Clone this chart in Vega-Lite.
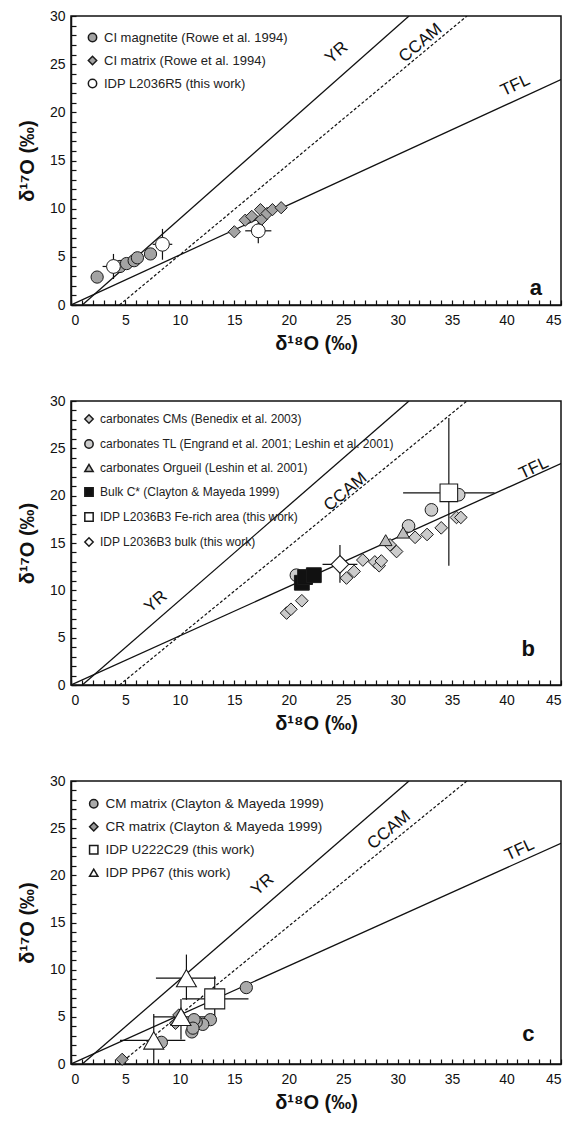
{
  "$schema": "https://vega.github.io/schema/vega-lite/v6.json",
  "background": "white",
  "padding": {"left": 16, "top": 8, "right": 2, "bottom": 5},
  "spacing": 39,
  "datasets": {
    "ref": [
      {"line": "YR", "x": 1.04, "y": 0}, {"line": "YR", "x": 31.04, "y": 30},
      {"line": "TFL", "x": 0, "y": 0}, {"line": "TFL", "x": 45, "y": 23.4},
      {"line": "CCAM", "x": 4.45, "y": 0}, {"line": "CCAM", "x": 36.36, "y": 30}
    ],
    "a_pts": [
      {"s": "CI magnetite (Rowe et al. 1994)", "x": 2.4, "y": 2.9},
      {"s": "CI magnetite (Rowe et al. 1994)", "x": 4.5, "y": 4.0},
      {"s": "CI magnetite (Rowe et al. 1994)", "x": 5.1, "y": 4.3},
      {"s": "CI magnetite (Rowe et al. 1994)", "x": 5.8, "y": 4.6},
      {"s": "CI magnetite (Rowe et al. 1994)", "x": 6.1, "y": 4.9},
      {"s": "CI magnetite (Rowe et al. 1994)", "x": 7.3, "y": 5.3},
      {"s": "CI matrix (Rowe et al. 1994)", "x": 15.0, "y": 7.6},
      {"s": "CI matrix (Rowe et al. 1994)", "x": 16.0, "y": 8.8},
      {"s": "CI matrix (Rowe et al. 1994)", "x": 16.6, "y": 9.2},
      {"s": "CI matrix (Rowe et al. 1994)", "x": 17.5, "y": 8.9},
      {"s": "CI matrix (Rowe et al. 1994)", "x": 17.4, "y": 9.9},
      {"s": "CI matrix (Rowe et al. 1994)", "x": 18.0, "y": 9.5},
      {"s": "CI matrix (Rowe et al. 1994)", "x": 18.5, "y": 9.9},
      {"s": "CI matrix (Rowe et al. 1994)", "x": 19.3, "y": 10.1},
      {"s": "IDP L2036R5 (this work)", "x": 3.9, "y": 4.0, "xlo": 2.9, "xhi": 4.9, "ylo": 2.7, "yhi": 5.3},
      {"s": "IDP L2036R5 (this work)", "x": 8.4, "y": 6.3, "xlo": 7.5, "xhi": 9.3, "ylo": 4.7, "yhi": 7.9},
      {"s": "IDP L2036R5 (this work)", "x": 17.2, "y": 7.7, "xlo": 16.0, "xhi": 18.4, "ylo": 6.4, "yhi": 9.0}
    ],
    "a_lab": [
      {"t": "YR", "x": 24.4, "y": 26.2},
      {"t": "CCAM", "x": 32.1, "y": 27.2},
      {"t": "TFL", "x": 40.8, "y": 22.8},
      {"t": "a", "x": 42.7, "y": 1.8}
    ],
    "b_pts": [
      {"s": "carbonates CMs (Benedix et al. 2003)", "x": 19.8, "y": 7.6},
      {"s": "carbonates CMs (Benedix et al. 2003)", "x": 20.2, "y": 8.0},
      {"s": "carbonates CMs (Benedix et al. 2003)", "x": 21.2, "y": 8.9},
      {"s": "carbonates CMs (Benedix et al. 2003)", "x": 25.3, "y": 11.3},
      {"s": "carbonates CMs (Benedix et al. 2003)", "x": 26.0, "y": 12.0},
      {"s": "carbonates CMs (Benedix et al. 2003)", "x": 26.8, "y": 13.2},
      {"s": "carbonates CMs (Benedix et al. 2003)", "x": 27.9, "y": 13.0},
      {"s": "carbonates CMs (Benedix et al. 2003)", "x": 28.3, "y": 12.6},
      {"s": "carbonates CMs (Benedix et al. 2003)", "x": 28.5, "y": 13.1},
      {"s": "carbonates CMs (Benedix et al. 2003)", "x": 29.3, "y": 14.8},
      {"s": "carbonates CMs (Benedix et al. 2003)", "x": 29.9, "y": 14.1},
      {"s": "carbonates CMs (Benedix et al. 2003)", "x": 31.6, "y": 15.6},
      {"s": "carbonates CMs (Benedix et al. 2003)", "x": 32.7, "y": 15.9},
      {"s": "carbonates CMs (Benedix et al. 2003)", "x": 34.0, "y": 16.6},
      {"s": "carbonates CMs (Benedix et al. 2003)", "x": 35.4, "y": 17.7},
      {"s": "carbonates CMs (Benedix et al. 2003)", "x": 35.8, "y": 17.7},
      {"s": "carbonates TL (Engrand et al. 2001; Leshin et al. 2001)", "x": 20.7, "y": 11.6},
      {"s": "carbonates TL (Engrand et al. 2001; Leshin et al. 2001)", "x": 31.0, "y": 16.8},
      {"s": "carbonates TL (Engrand et al. 2001; Leshin et al. 2001)", "x": 33.1, "y": 18.5},
      {"s": "carbonates TL (Engrand et al. 2001; Leshin et al. 2001)", "x": 35.6, "y": 20.1},
      {"s": "carbonates Orgueil (Leshin et al. 2001)", "x": 28.9, "y": 15.3},
      {"s": "carbonates Orgueil (Leshin et al. 2001)", "x": 30.5, "y": 16.1},
      {"s": "Bulk C* (Clayton & Mayeda 1999)", "x": 21.2, "y": 10.8},
      {"s": "Bulk C* (Clayton & Mayeda 1999)", "x": 21.5, "y": 11.4},
      {"s": "Bulk C* (Clayton & Mayeda 1999)", "x": 22.3, "y": 11.6},
      {"s": "IDP L2036B3 Fe-rich area (this work)", "x": 34.7, "y": 20.3, "xlo": 30.5, "xhi": 38.9, "ylo": 12.6, "yhi": 28.2},
      {"s": "IDP L2036B3 bulk (this work)", "x": 24.7, "y": 12.75, "xlo": 23.1, "xhi": 26.3, "ylo": 10.8, "yhi": 14.8}
    ],
    "b_lab": [
      {"t": "YR", "x": 7.8, "y": 8.8},
      {"t": "CCAM", "x": 25.2, "y": 20.4},
      {"t": "TFL", "x": 42.5, "y": 22.9},
      {"t": "b", "x": 42.0, "y": 3.8}
    ],
    "c_pts": [
      {"s": "CM matrix (Clayton & Mayeda 1999)", "x": 16.1, "y": 8.1},
      {"s": "CM matrix (Clayton & Mayeda 1999)", "x": 12.8, "y": 4.7},
      {"s": "CM matrix (Clayton & Mayeda 1999)", "x": 12.1, "y": 4.2},
      {"s": "CM matrix (Clayton & Mayeda 1999)", "x": 11.5, "y": 4.45},
      {"s": "CM matrix (Clayton & Mayeda 1999)", "x": 11.3, "y": 4.7},
      {"s": "CM matrix (Clayton & Mayeda 1999)", "x": 11.1, "y": 3.4},
      {"s": "CM matrix (Clayton & Mayeda 1999)", "x": 11.2, "y": 3.8},
      {"s": "CM matrix (Clayton & Mayeda 1999)", "x": 8.3, "y": 2.3},
      {"s": "CR matrix (Clayton & Mayeda 1999)", "x": 4.7, "y": 0.5},
      {"s": "CR matrix (Clayton & Mayeda 1999)", "x": 9.6, "y": 4.3},
      {"s": "CR matrix (Clayton & Mayeda 1999)", "x": 9.9, "y": 5.2},
      {"s": "IDP U222C29 (this work)", "x": 13.2, "y": 6.9, "xlo": 10.2, "xhi": 16.3, "ylo": 4.5, "yhi": 9.3},
      {"s": "IDP PP67 (this work)", "x": 10.6, "y": 9.1, "xlo": 7.8, "xhi": 13.3, "ylo": 6.8, "yhi": 11.6},
      {"s": "IDP PP67 (this work)", "x": 10.1, "y": 5.0, "xlo": 7.6, "xhi": 12.6, "ylo": 2.6, "yhi": 6.9},
      {"s": "IDP PP67 (this work)", "x": 7.6, "y": 2.5, "xlo": 4.5, "xhi": 10.5, "ylo": 0, "yhi": 5.3}
    ],
    "c_lab": [
      {"t": "YR", "x": 17.6, "y": 19.0},
      {"t": "CCAM", "x": 29.2, "y": 24.8},
      {"t": "TFL", "x": 41.2, "y": 22.7},
      {"t": "c", "x": 42.0, "y": 3.2}
    ]
  },
  "resolve": {
    "scale": {"x": "independent", "y": "independent", "fill": "independent", "shape": "independent"},
    "legend": {"fill": "independent", "shape": "independent"}
  },
  "vconcat": [
    {
      "width": 490, "height": 289,
      "encoding": {
        "x": {"field": "x", "type": "quantitative", "scale": {"domain": [0, 45], "nice": false, "zero": false},
              "axis": {"orient": "bottom", "values": [0,1,2,3,4,5,6,7,8,9,10,11,12,13,14,15,16,17,18,19,20,21,22,23,24,25,26,27,28,29,30,31,32,33,34,35,36,37,38,39,40,41,42,43,44,45], "labelExpr": "datum.value % 5 === 0 ? datum.label : ''", "tickSize": -5, "labelPadding": 13, "title": "δ¹⁸O (‰)", "titlePadding": 6}},
        "y": {"field": "y", "type": "quantitative", "scale": {"domain": [0, 30], "nice": false, "zero": false},
              "axis": {"orient": "left", "values": [0,1,2,3,4,5,6,7,8,9,10,11,12,13,14,15,16,17,18,19,20,21,22,23,24,25,26,27,28,29,30], "labelExpr": "datum.value % 5 === 0 ? datum.label : ''", "tickSize": -5, "labelPadding": 11, "title": "δ¹⁷O (‰)", "titlePadding": 12}}
      },
      "layer": [
        {
          "data": {"name": "ref"},
          "transform": [{"filter": "datum.line !== 'CCAM'"}],
          "mark": {"type": "line", "color": "#111", "strokeWidth": 1.3, "clip": true},
          "encoding": {"detail": {"field": "line"}}
        },
        {
          "data": {"name": "ref"},
          "transform": [{"filter": "datum.line === 'CCAM'"}],
          "mark": {"type": "line", "color": "#111", "strokeWidth": 1.2, "strokeDash": [3, 2], "clip": true},
          "encoding": {}
        },
        {
          "data": {"name": "a_pts"},
          "transform": [{"filter": "isValid(datum.xlo)"}],
          "mark": {"type": "rule", "color": "#111", "strokeWidth": 1.2},
          "encoding": {
            "x": {"field": "xlo", "type": "quantitative", "scale": {"domain": [0, 45], "nice": false, "zero": false},
                  "axis": {"orient": "bottom", "values": [0,1,2,3,4,5,6,7,8,9,10,11,12,13,14,15,16,17,18,19,20,21,22,23,24,25,26,27,28,29,30,31,32,33,34,35,36,37,38,39,40,41,42,43,44,45], "labelExpr": "datum.value % 5 === 0 ? datum.label : ''", "tickSize": -5, "labelPadding": 13, "title": "δ¹⁸O (‰)", "titlePadding": 6}},
            "x2": {"field": "xhi"}
          }
        },
        {
          "data": {"name": "a_pts"},
          "transform": [{"filter": "isValid(datum.xlo)"}],
          "mark": {"type": "rule", "color": "#111", "strokeWidth": 1.2},
          "encoding": {
            "y": {"field": "ylo", "type": "quantitative", "scale": {"domain": [0, 30], "nice": false, "zero": false},
                  "axis": {"orient": "left", "values": [0,1,2,3,4,5,6,7,8,9,10,11,12,13,14,15,16,17,18,19,20,21,22,23,24,25,26,27,28,29,30], "labelExpr": "datum.value % 5 === 0 ? datum.label : ''", "tickSize": -5, "labelPadding": 11, "title": "δ¹⁷O (‰)", "titlePadding": 12}},
            "y2": {"field": "yhi"}
          }
        },
        {
          "data": {"name": "a_pts"},
          "transform": [{"filter": "!isValid(datum.xlo)"}],
          "mark": {"type": "point", "filled": true, "stroke": "#1a1a1a", "strokeWidth": 1, "opacity": 1, "size": 150},
          "encoding": {
            "fill": {"field": "s", "type": "nominal",
                     "scale": {"domain": ["CI magnetite (Rowe et al. 1994)", "CI matrix (Rowe et al. 1994)", "IDP L2036R5 (this work)"], "range": ["#a3a3a3", "#a3a3a3", "#ffffff"]},
                     "legend": {"title": null, "orient": "top-left", "offset": 13, "labelFontSize": 13, "rowPadding": 8, "symbolSize": 70,
                                "encode": {"symbols": {"stroke": {"value": "#1a1a1a"}, "strokeWidth": {"value": 1}}}}},
            "shape": {"field": "s", "type": "nominal",
                      "scale": {"domain": ["CI magnetite (Rowe et al. 1994)", "CI matrix (Rowe et al. 1994)", "IDP L2036R5 (this work)"], "range": ["circle", "diamond", "circle"]},
                      "legend": {"title": null, "orient": "top-left", "offset": 13, "labelFontSize": 13, "rowPadding": 8, "symbolSize": 70,
                                 "encode": {"symbols": {"stroke": {"value": "#1a1a1a"}, "strokeWidth": {"value": 1}}}}}
          }
        },
        {
          "data": {"name": "a_pts"},
          "transform": [{"filter": "isValid(datum.xlo)"}],
          "mark": {"type": "point", "filled": true, "stroke": "#1a1a1a", "strokeWidth": 1, "opacity": 1, "size": 190},
          "encoding": {
            "fill": {"field": "s", "type": "nominal"},
            "shape": {"field": "s", "type": "nominal"}
          }
        },
        {
          "data": {"name": "a_lab"},
          "transform": [{"filter": "datum.t === 'YR'"}],
          "mark": {"type": "text", "angle": -41, "fontSize": 17, "color": "#111"},
          "encoding": {"text": {"field": "t"}}
        },
        {
          "data": {"name": "a_lab"},
          "transform": [{"filter": "datum.t === 'CCAM'"}],
          "mark": {"type": "text", "angle": -40, "fontSize": 17, "color": "#111"},
          "encoding": {"text": {"field": "t"}}
        },
        {
          "data": {"name": "a_lab"},
          "transform": [{"filter": "datum.t === 'TFL'"}],
          "mark": {"type": "text", "angle": -25, "fontSize": 17, "color": "#111"},
          "encoding": {"text": {"field": "t"}}
        },
        {
          "data": {"name": "a_lab"},
          "transform": [{"filter": "datum.t === 'a'"}],
          "mark": {"type": "text", "fontSize": 22, "fontWeight": "bold", "color": "#111"},
          "encoding": {"text": {"field": "t"}}
        }
      ]
    },
    {
      "width": 490, "height": 284,
      "encoding": {
        "x": {"field": "x", "type": "quantitative", "scale": {"domain": [0, 45], "nice": false, "zero": false},
              "axis": {"orient": "bottom", "values": [0,1,2,3,4,5,6,7,8,9,10,11,12,13,14,15,16,17,18,19,20,21,22,23,24,25,26,27,28,29,30,31,32,33,34,35,36,37,38,39,40,41,42,43,44,45], "labelExpr": "datum.value % 5 === 0 ? datum.label : ''", "tickSize": -5, "labelPadding": 13, "title": "δ¹⁸O (‰)", "titlePadding": 6}},
        "y": {"field": "y", "type": "quantitative", "scale": {"domain": [0, 30], "nice": false, "zero": false},
              "axis": {"orient": "left", "values": [0,1,2,3,4,5,6,7,8,9,10,11,12,13,14,15,16,17,18,19,20,21,22,23,24,25,26,27,28,29,30], "labelExpr": "datum.value % 5 === 0 ? datum.label : ''", "tickSize": -5, "labelPadding": 11, "title": "δ¹⁷O (‰)", "titlePadding": 12}}
      },
      "layer": [
        {
          "data": {"name": "ref"},
          "transform": [{"filter": "datum.line !== 'CCAM'"}],
          "mark": {"type": "line", "color": "#111", "strokeWidth": 1.3, "clip": true},
          "encoding": {"detail": {"field": "line"}}
        },
        {
          "data": {"name": "ref"},
          "transform": [{"filter": "datum.line === 'CCAM'"}],
          "mark": {"type": "line", "color": "#111", "strokeWidth": 1.2, "strokeDash": [3, 2], "clip": true},
          "encoding": {}
        },
        {
          "data": {"name": "b_pts"},
          "transform": [{"filter": "isValid(datum.xlo)"}],
          "mark": {"type": "rule", "color": "#111", "strokeWidth": 1.2},
          "encoding": {
            "x": {"field": "xlo", "type": "quantitative", "scale": {"domain": [0, 45], "nice": false, "zero": false},
                  "axis": {"orient": "bottom", "values": [0,1,2,3,4,5,6,7,8,9,10,11,12,13,14,15,16,17,18,19,20,21,22,23,24,25,26,27,28,29,30,31,32,33,34,35,36,37,38,39,40,41,42,43,44,45], "labelExpr": "datum.value % 5 === 0 ? datum.label : ''", "tickSize": -5, "labelPadding": 13, "title": "δ¹⁸O (‰)", "titlePadding": 6}},
            "x2": {"field": "xhi"}
          }
        },
        {
          "data": {"name": "b_pts"},
          "transform": [{"filter": "isValid(datum.xlo)"}],
          "mark": {"type": "rule", "color": "#111", "strokeWidth": 1.2},
          "encoding": {
            "y": {"field": "ylo", "type": "quantitative", "scale": {"domain": [0, 30], "nice": false, "zero": false},
                  "axis": {"orient": "left", "values": [0,1,2,3,4,5,6,7,8,9,10,11,12,13,14,15,16,17,18,19,20,21,22,23,24,25,26,27,28,29,30], "labelExpr": "datum.value % 5 === 0 ? datum.label : ''", "tickSize": -5, "labelPadding": 11, "title": "δ¹⁷O (‰)", "titlePadding": 12}},
            "y2": {"field": "yhi"}
          }
        },
        {
          "data": {"name": "b_pts"},
          "transform": [{"filter": "datum.s !== 'Bulk C* (Clayton & Mayeda 1999)' && !isValid(datum.xlo)"}],
          "mark": {"type": "point", "filled": true, "stroke": "#1a1a1a", "strokeWidth": 1, "opacity": 1, "size": 160},
          "encoding": {
            "fill": {"field": "s", "type": "nominal",
                     "scale": {"domain": ["carbonates CMs (Benedix et al. 2003)", "carbonates TL (Engrand et al. 2001; Leshin et al. 2001)", "carbonates Orgueil (Leshin et al. 2001)", "Bulk C* (Clayton & Mayeda 1999)", "IDP L2036B3 Fe-rich area (this work)", "IDP L2036B3 bulk (this work)"],
                               "range": ["#cccccc", "#cccccc", "#bdbdbd", "#111111", "#ffffff", "#ffffff"]},
                     "legend": {"title": null, "orient": "top-left", "offset": 10, "labelFontSize": 12, "rowPadding": 9, "symbolSize": 70,
                                "encode": {"symbols": {"stroke": {"value": "#1a1a1a"}, "strokeWidth": {"value": 1}}}}},
            "shape": {"field": "s", "type": "nominal",
                      "scale": {"domain": ["carbonates CMs (Benedix et al. 2003)", "carbonates TL (Engrand et al. 2001; Leshin et al. 2001)", "carbonates Orgueil (Leshin et al. 2001)", "Bulk C* (Clayton & Mayeda 1999)", "IDP L2036B3 Fe-rich area (this work)", "IDP L2036B3 bulk (this work)"],
                                "range": ["diamond", "circle", "triangle-up", "square", "square", "diamond"]},
                      "legend": {"title": null, "orient": "top-left", "offset": 10, "labelFontSize": 12, "rowPadding": 9, "symbolSize": 70,
                                 "encode": {"symbols": {"stroke": {"value": "#1a1a1a"}, "strokeWidth": {"value": 1}}}}}
          }
        },
        {
          "data": {"name": "b_pts"},
          "transform": [{"filter": "datum.s === 'Bulk C* (Clayton & Mayeda 1999)'"}],
          "mark": {"type": "point", "filled": true, "stroke": "#1a1a1a", "strokeWidth": 1, "opacity": 1, "size": 220},
          "encoding": {
            "fill": {"field": "s", "type": "nominal"},
            "shape": {"field": "s", "type": "nominal"}
          }
        },
        {
          "data": {"name": "b_pts"},
          "transform": [{"filter": "isValid(datum.xlo)"}],
          "mark": {"type": "point", "filled": true, "stroke": "#1a1a1a", "strokeWidth": 1.1, "opacity": 1, "size": 310},
          "encoding": {
            "fill": {"field": "s", "type": "nominal"},
            "shape": {"field": "s", "type": "nominal"}
          }
        },
        {
          "data": {"name": "b_lab"},
          "transform": [{"filter": "datum.t === 'YR'"}],
          "mark": {"type": "text", "angle": -41, "fontSize": 17, "color": "#111"},
          "encoding": {"text": {"field": "t"}}
        },
        {
          "data": {"name": "b_lab"},
          "transform": [{"filter": "datum.t === 'CCAM'"}],
          "mark": {"type": "text", "angle": -40, "fontSize": 17, "color": "#111"},
          "encoding": {"text": {"field": "t"}}
        },
        {
          "data": {"name": "b_lab"},
          "transform": [{"filter": "datum.t === 'TFL'"}],
          "mark": {"type": "text", "angle": -25, "fontSize": 17, "color": "#111"},
          "encoding": {"text": {"field": "t"}}
        },
        {
          "data": {"name": "b_lab"},
          "transform": [{"filter": "datum.t === 'b'"}],
          "mark": {"type": "text", "fontSize": 22, "fontWeight": "bold", "color": "#111"},
          "encoding": {"text": {"field": "t"}}
        }
      ]
    },
    {
      "width": 490, "height": 283,
      "encoding": {
        "x": {"field": "x", "type": "quantitative", "scale": {"domain": [0, 45], "nice": false, "zero": false},
              "axis": {"orient": "bottom", "values": [0,1,2,3,4,5,6,7,8,9,10,11,12,13,14,15,16,17,18,19,20,21,22,23,24,25,26,27,28,29,30,31,32,33,34,35,36,37,38,39,40,41,42,43,44,45], "labelExpr": "datum.value % 5 === 0 ? datum.label : ''", "tickSize": -5, "labelPadding": 13, "title": "δ¹⁸O (‰)", "titlePadding": 6}},
        "y": {"field": "y", "type": "quantitative", "scale": {"domain": [0, 30], "nice": false, "zero": false},
              "axis": {"orient": "left", "values": [0,1,2,3,4,5,6,7,8,9,10,11,12,13,14,15,16,17,18,19,20,21,22,23,24,25,26,27,28,29,30], "labelExpr": "datum.value % 5 === 0 ? datum.label : ''", "tickSize": -5, "labelPadding": 11, "title": "δ¹⁷O (‰)", "titlePadding": 12}}
      },
      "layer": [
        {
          "data": {"name": "ref"},
          "transform": [{"filter": "datum.line !== 'CCAM'"}],
          "mark": {"type": "line", "color": "#111", "strokeWidth": 1.3, "clip": true},
          "encoding": {"detail": {"field": "line"}}
        },
        {
          "data": {"name": "ref"},
          "transform": [{"filter": "datum.line === 'CCAM'"}],
          "mark": {"type": "line", "color": "#111", "strokeWidth": 1.2, "strokeDash": [3, 2], "clip": true},
          "encoding": {}
        },
        {
          "data": {"name": "c_pts"},
          "transform": [{"filter": "isValid(datum.xlo)"}],
          "mark": {"type": "rule", "color": "#111", "strokeWidth": 1.2},
          "encoding": {
            "x": {"field": "xlo", "type": "quantitative", "scale": {"domain": [0, 45], "nice": false, "zero": false},
                  "axis": {"orient": "bottom", "values": [0,1,2,3,4,5,6,7,8,9,10,11,12,13,14,15,16,17,18,19,20,21,22,23,24,25,26,27,28,29,30,31,32,33,34,35,36,37,38,39,40,41,42,43,44,45], "labelExpr": "datum.value % 5 === 0 ? datum.label : ''", "tickSize": -5, "labelPadding": 13, "title": "δ¹⁸O (‰)", "titlePadding": 6}},
            "x2": {"field": "xhi"}
          }
        },
        {
          "data": {"name": "c_pts"},
          "transform": [{"filter": "isValid(datum.xlo)"}],
          "mark": {"type": "rule", "color": "#111", "strokeWidth": 1.2},
          "encoding": {
            "y": {"field": "ylo", "type": "quantitative", "scale": {"domain": [0, 30], "nice": false, "zero": false},
                  "axis": {"orient": "left", "values": [0,1,2,3,4,5,6,7,8,9,10,11,12,13,14,15,16,17,18,19,20,21,22,23,24,25,26,27,28,29,30], "labelExpr": "datum.value % 5 === 0 ? datum.label : ''", "tickSize": -5, "labelPadding": 11, "title": "δ¹⁷O (‰)", "titlePadding": 12}},
            "y2": {"field": "yhi"}
          }
        },
        {
          "data": {"name": "c_pts"},
          "transform": [{"filter": "!isValid(datum.xlo)"}],
          "mark": {"type": "point", "filled": true, "stroke": "#1a1a1a", "strokeWidth": 1, "opacity": 1, "size": 150},
          "encoding": {
            "fill": {"field": "s", "type": "nominal",
                     "scale": {"domain": ["CM matrix (Clayton & Mayeda 1999)", "CR matrix (Clayton & Mayeda 1999)", "IDP U222C29 (this work)", "IDP PP67 (this work)"],
                               "range": ["#aaaaaa", "#999999", "#ffffff", "#ffffff"]},
                     "legend": {"title": null, "orient": "top-left", "offset": 14, "labelFontSize": 13.5, "rowPadding": 8, "symbolSize": 70,
                                "encode": {"symbols": {"stroke": {"value": "#1a1a1a"}, "strokeWidth": {"value": 1}}}}},
            "shape": {"field": "s", "type": "nominal",
                      "scale": {"domain": ["CM matrix (Clayton & Mayeda 1999)", "CR matrix (Clayton & Mayeda 1999)", "IDP U222C29 (this work)", "IDP PP67 (this work)"],
                                "range": ["circle", "diamond", "square", "triangle-up"]},
                      "legend": {"title": null, "orient": "top-left", "offset": 14, "labelFontSize": 13.5, "rowPadding": 8, "symbolSize": 70,
                                 "encode": {"symbols": {"stroke": {"value": "#1a1a1a"}, "strokeWidth": {"value": 1}}}}}
          }
        },
        {
          "data": {"name": "c_pts"},
          "transform": [{"filter": "isValid(datum.xlo)"}],
          "mark": {"type": "point", "filled": true, "stroke": "#1a1a1a", "strokeWidth": 1.1, "opacity": 1, "size": 400},
          "encoding": {
            "fill": {"field": "s", "type": "nominal"},
            "shape": {"field": "s", "type": "nominal"}
          }
        },
        {
          "data": {"name": "c_lab"},
          "transform": [{"filter": "datum.t === 'YR'"}],
          "mark": {"type": "text", "angle": -41, "fontSize": 17, "color": "#111"},
          "encoding": {"text": {"field": "t"}}
        },
        {
          "data": {"name": "c_lab"},
          "transform": [{"filter": "datum.t === 'CCAM'"}],
          "mark": {"type": "text", "angle": -40, "fontSize": 17, "color": "#111"},
          "encoding": {"text": {"field": "t"}}
        },
        {
          "data": {"name": "c_lab"},
          "transform": [{"filter": "datum.t === 'TFL'"}],
          "mark": {"type": "text", "angle": -25, "fontSize": 17, "color": "#111"},
          "encoding": {"text": {"field": "t"}}
        },
        {
          "data": {"name": "c_lab"},
          "transform": [{"filter": "datum.t === 'c'"}],
          "mark": {"type": "text", "fontSize": 22, "fontWeight": "bold", "color": "#111"},
          "encoding": {"text": {"field": "t"}}
        }
      ]
    }
  ],
  "config": {
    "font": "Liberation Sans",
    "view": {"stroke": "#111", "strokeWidth": 1.5},
    "axis": {"grid": false, "domainColor": "#111", "domainWidth": 1.5, "tickColor": "#111", "tickWidth": 1.2,
             "labelFontSize": 14, "labelColor": "#111", "titleFontSize": 20, "titleFontWeight": "bold", "titleColor": "#111"},
    "legend": {"labelColor": "#222", "labelLimit": 400, "labelOffset": 5, "padding": 2}
  }
}
